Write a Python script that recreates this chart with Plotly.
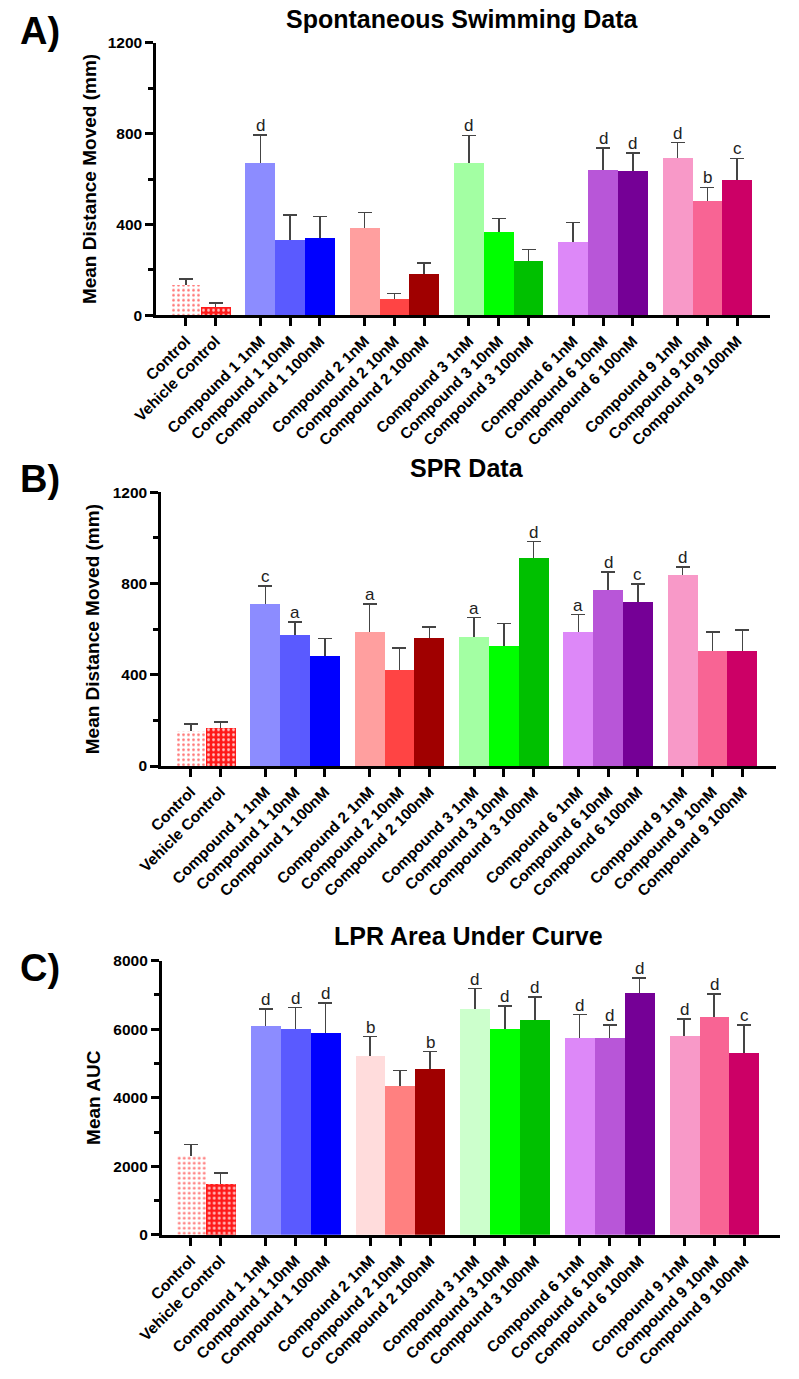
import plotly.graph_objects as go

# ---------------- data ----------------
groups = [
    ["Control", "Vehicle Control"],
    ["Compound 1 1nM", "Compound 1 10nM", "Compound 1 100nM"],
    ["Compound 2 1nM", "Compound 2 10nM", "Compound 2 100nM"],
    ["Compound 3 1nM", "Compound 3 10nM", "Compound 3 100nM"],
    ["Compound 6 1nM", "Compound 6 10nM", "Compound 6 100nM"],
    ["Compound 9 1nM", "Compound 9 10nM", "Compound 9 100nM"],
]

A_values = [135, 40, 670, 333, 340, 385, 72, 182, 672, 370, 242, 322, 640, 636, 694, 505, 595]
A_errors = [25, 13, 125, 108, 95, 68, 24, 48, 120, 57, 47, 87, 96, 78, 66, 58, 96]
A_letters = ["", "", "d", "", "", "", "", "", "d", "", "", "", "d", "d", "d", "b", "c"]

B_values = [153, 166, 710, 575, 479, 585, 419, 561, 564, 526, 910, 587, 770, 717, 834, 504, 501]
B_errors = [31, 27, 80, 57, 80, 125, 98, 49, 87, 99, 74, 77, 80, 80, 38, 84, 95]
B_letters = ["", "", "c", "a", "", "a", "", "", "a", "", "d", "a", "d", "c", "d", "", ""]

C_values = [2300, 1500, 6115, 6010, 5890, 5240, 4350, 4840, 6600, 6020, 6280, 5755, 5755, 7070, 5805, 6360, 5315]
C_errors = [330, 310, 480, 620, 875, 545, 440, 505, 585, 660, 665, 670, 370, 420, 490, 670, 800]
C_letters = ["", "", "d", "d", "d", "b", "", "b", "d", "d", "d", "d", "d", "d", "d", "d", "c"]

colors_AB = ["#8c8cff", "#5a5aff", "#0000ff",
             "#ff9f9f", "#ff4444", "#a00000",
             "#a3ffa3", "#00ff00", "#00c000",
             "#dd88f8", "#b856d8", "#750096",
             "#f899c8", "#f86494", "#cc0066"]
colors_C = ["#8c8cff", "#5a5aff", "#0000ff",
            "#ffdcdc", "#ff8080", "#a00000",
            "#ccffcc", "#00ff00", "#00c000",
            "#dd88f8", "#b856d8", "#750096",
            "#f899c8", "#f86494", "#cc0066"]

panels = [
    dict(letter="A)", title="Spontaneous Swimming Data", ytitle="Mean Distance Moved (mm)",
         values=A_values, errors=A_errors, letters=A_letters, colors=colors_AB,
         yrange=[0, 1200], dtick=400, minor=200,
         xdom=[156 / 799, 770 / 799], xr=[-1.0, 19.6], y0px=315.3, y1px=42.7,
         title_x=462, title_y=19, label_y=31, standoff=7),
    dict(letter="B)", title="SPR Data", ytitle="Mean Distance Moved (mm)",
         values=B_values, errors=B_errors, letters=B_letters, colors=colors_AB,
         yrange=[0, 1200], dtick=400, minor=200,
         xdom=[161 / 799, 776 / 799], xr=[-1.0, 19.63], y0px=766, y1px=492.3,
         title_x=467, title_y=468, label_y=479, standoff=9),
    dict(letter="C)", title="LPR Area Under Curve", ytitle="Mean AUC",
         values=C_values, errors=C_errors, letters=C_letters, colors=colors_C,
         yrange=[0, 8000], dtick=2000, minor=1000,
         xdom=[161.7 / 799, 780 / 799], xr=[-0.97, 19.7], y0px=1234.8, y1px=960.7,
         title_x=468, title_y=936, label_y=968, standoff=8),
]

# positions: consecutive within a group, half-category gap between groups
labels, xpos = [], []
p = 0.0
for g in groups:
    for lab in g:
        labels.append(lab)
        xpos.append(p)
        p += 1
    p += 0.5

W, H = 799, 1379
FONT = "Arial, Liberation Sans, sans-serif"
fig = go.Figure()
annotations = []
ctrl_style = [
    dict(color="#ff6b6b", pattern=dict(shape=".", fillmode="replace", fgcolor="#ff7070",
                                       bgcolor="#ffffff", size=5, solidity=0.22)),
    dict(color="#ff1a1a", pattern=dict(shape=".", fillmode="replace", fgcolor="#ffc4c4",
                                       bgcolor="#ff1a1a", size=5, solidity=0.25)),
]
n_ctrl = len(groups[0])

for i, pn in enumerate(panels, start=1):
    xa = "x" if i == 1 else f"x{i}"
    ya = "y" if i == 1 else f"y{i}"
    vals, errs = pn["values"], pn["errors"]
    tuck = pn["yrange"][1] * 0.012  # lower cap hidden inside the bar
    # invisible carrier of the (upward) error bars; the real bars are drawn over it
    fig.add_trace(go.Bar(
        x=xpos, y=vals, width=1.0, xaxis=xa, yaxis=ya,
        marker=dict(color="rgba(0,0,0,0)", line=dict(width=0)),
        error_y=dict(type="data", symmetric=False, array=errs,
                     arrayminus=[tuck] * len(vals), color="#444444", thickness=1.6, width=7),
        showlegend=False, hoverinfo="skip"))
    # control bars with dotted pattern
    for k in range(n_ctrl):
        fig.add_trace(go.Bar(
            x=[xpos[k]], y=[vals[k]], width=1.0, xaxis=xa, yaxis=ya,
            marker=dict(line=dict(width=0), **ctrl_style[k]),
            showlegend=False, hoverinfo="skip"))
    fig.add_trace(go.Bar(
        x=xpos[n_ctrl:], y=vals[n_ctrl:], width=1.0, xaxis=xa, yaxis=ya,
        marker=dict(color=pn["colors"], line=dict(width=0)),
        showlegend=False, hoverinfo="skip"))

    ydom = [1 - pn["y0px"] / H, 1 - pn["y1px"] / H]
    axis_common = dict(showline=True, linecolor="black", linewidth=2.5, automargin=False,
                       ticks="outside", ticklen=8, tickwidth=2.5, tickcolor="black",
                       showgrid=False, zeroline=False,
                       tickfont=dict(family=FONT, size=15.5, color="black", weight="bold"))
    fig.update_layout({
        ("xaxis" if i == 1 else f"xaxis{i}"): dict(
            domain=pn["xdom"], range=pn["xr"], anchor=ya,
            tickmode="array", tickvals=xpos, ticktext=labels, tickangle=-45,
            **axis_common),
        ("yaxis" if i == 1 else f"yaxis{i}"): dict(
            domain=ydom, range=pn["yrange"], anchor=xa, dtick=pn["dtick"], tick0=0,
            minor=dict(dtick=pn["minor"], ticklen=5, tickwidth=2.5, tickcolor="black",
                       ticks="outside"),
            title=dict(text=pn["ytitle"], standoff=pn["standoff"],
                       font=dict(family=FONT, size=19, color="black", weight="bold")),
            **axis_common),
    })

    # significance letters above error caps
    for x, v, e, t in zip(xpos, vals, errs, pn["letters"]):
        if t:
            annotations.append(dict(x=x, y=v + e, xref=xa, yref=ya, text=t,
                                    showarrow=False, yanchor="bottom", yshift=-2,
                                    font=dict(family=FONT, size=17, color="#222222")))
    # titles and panel letters
    annotations.append(dict(x=pn["title_x"] / W, y=1 - pn["title_y"] / H, xref="paper",
                            yref="paper", text=pn["title"], showarrow=False,
                            xanchor="center", yanchor="middle",
                            font=dict(family=FONT, size=25, color="black", weight="bold")))
    annotations.append(dict(x=18 / W, y=1 - pn["label_y"] / H, xref="paper", yref="paper",
                            text=pn["letter"], showarrow=False, xanchor="left", yanchor="middle",
                            font=dict(family=FONT, size=38, color="black", weight="bold")))

fig.update_layout(width=W, height=H, margin=dict(l=0, r=0, t=0, b=0, autoexpand=False),
                  paper_bgcolor="white", plot_bgcolor="white",
                  barmode="overlay", bargap=0, annotations=annotations,
                  font=dict(family=FONT, color="black"))

fig.write_html("out.html", config={"displayModeBar": False},
               post_script="document.body.style.margin='0px';document.body.style.overflow='hidden';")
